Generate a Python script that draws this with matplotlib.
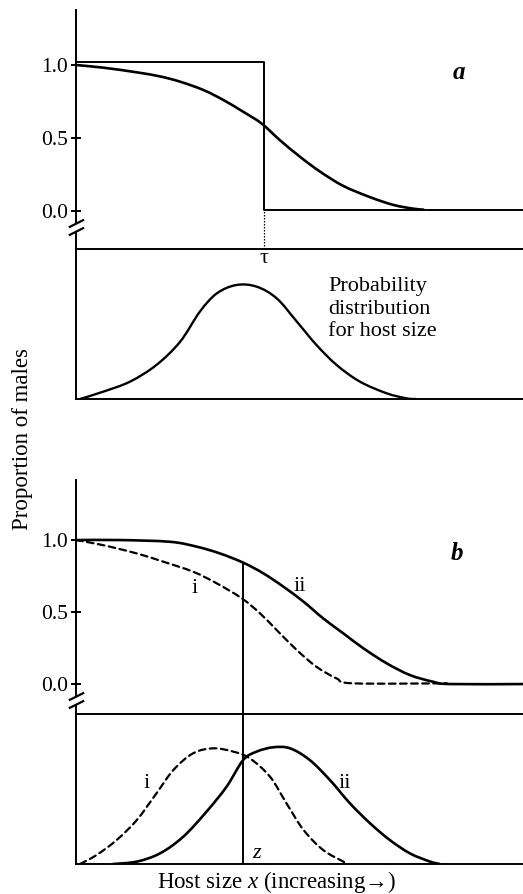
import matplotlib
matplotlib.use("Agg")
import matplotlib.pyplot as plt
from matplotlib.path import Path
from matplotlib.patches import PathPatch

plt.rcParams['font.family'] = ['Liberation Serif', 'DejaVu Serif']
plt.rcParams['mathtext.fontset'] = 'custom'
plt.rcParams['mathtext.rm'] = 'Liberation Serif'
plt.rcParams['mathtext.it'] = 'Liberation Serif:italic'

#####################################
# data (x = host size 0..100)

# panel a : threshold strategy (step) and smooth strategy
tau = 42
step_x = [0, tau, tau, 100]
step_y = [1.02, 1.02, 0.01, 0.01]

curve_a_x = [0, 6.1, 13.6, 18.8, 23.3, 28.5, 33, 37.4, 41.5, 45.6, 50.1, 54.6,
             59.8, 65.8, 71, 75.5, 77.7]
curve_a_y = [1.0, 0.982, 0.95, 0.922, 0.886, 0.829, 0.76, 0.68, 0.60, 0.486,
             0.372, 0.27, 0.172, 0.095, 0.042, 0.016, 0.01]

dist_a_x = [0.9, 6.1, 12.1, 18, 23.3, 27.7, 31.5, 35.9, 40.4, 44.9, 49.4, 53.8,
            58.3, 63.5, 69.5, 74, 76]
dist_a_y = [0, 0.049, 0.116, 0.227, 0.382, 0.582, 0.704, 0.76, 0.749, 0.671,
            0.516, 0.36, 0.227, 0.116, 0.038, 0.004, 0]

# panel b : two strategies i (dashed) and ii (solid)
ii_x = [0, 9.8, 21, 27, 32.2, 37.4, 41.9, 46.4, 50.9, 55.3, 59.8, 64.3, 69.5,
        74.7, 79.9, 83.7, 100]
ii_y = [1.0, 1.0, 0.988, 0.954, 0.907, 0.843, 0.769, 0.676, 0.572, 0.456,
        0.352, 0.248, 0.144, 0.0625, 0.016, 0.0, 0.0]

i_x = [0, 6, 13.6, 19.5, 26.2, 31.5, 37.1, 41.2, 44.9, 49.4, 53.8, 58.3, 62, 83]
i_y = [1.0, 0.965, 0.907, 0.85, 0.78, 0.699, 0.595, 0.49, 0.375, 0.236, 0.12,
       0.039, 0.005, 0.005]

dist_i_x = [0.9, 4.6, 9.1, 13.6, 18, 21.8, 26.2, 30.7, 35.2, 38.9, 43.4, 47.1,
            50.9, 55.3, 59.8, 60.6]
dist_i_y = [0, 0.06, 0.16, 0.293, 0.471, 0.627, 0.738, 0.771, 0.749, 0.704,
            0.582, 0.404, 0.227, 0.093, 0.016, 0]

dist_ii_x = [8.3, 13.6, 18.8, 24, 29.2, 33.7, 37.4, 40.4, 44.1, 47.9, 52.3,
             56.8, 61.3, 65.8, 70.2, 74.7, 79.2, 81.4]
dist_ii_y = [0, 0.016, 0.071, 0.182, 0.349, 0.516, 0.693, 0.749, 0.778, 0.771,
             0.693, 0.56, 0.404, 0.271, 0.16, 0.071, 0.016, 0]

z = 37.4
z_top = 0.843

yticks = [0, 0.5, 1.0]
ytick_labels = ["0.0", "0.5", "1.0"]

#####################################
# layout (pixels of the 523 x 894 picture)
W, H = 523, 894
LEFT = 76
fig = plt.figure(figsize=(W / 100, H / 100), dpi=100)


def box(top, bottom):
    return [LEFT / W, 1 - bottom / H, 1 - LEFT / W, (bottom - top) / H]


def smooth_line(ax, xs, ys, **kw):
    # bezier curve through the read points (catmull-rom tangents)
    pts = list(zip(xs, ys))
    n = len(pts)
    verts = [pts[0]]
    codes = [Path.MOVETO]
    for k in range(n - 1):
        p0 = pts[max(k - 1, 0)]
        p1 = pts[k]
        p2 = pts[k + 1]
        p3 = pts[min(k + 2, n - 1)]
        c1 = (p1[0] + (p2[0] - p0[0]) / 6, p1[1] + (p2[1] - p0[1]) / 6)
        c2 = (p2[0] - (p3[0] - p1[0]) / 6, p2[1] - (p3[1] - p1[1]) / 6)
        verts += [c1, c2, p2]
        codes += [Path.CURVE4] * 3
    ax.add_patch(PathPatch(Path(verts, codes), fill=False, color='k',
                           capstyle='round', **kw))


def style_upper(ax, ylim, unit_px):
    ax.set_xlim(0, 100)
    ax.set_ylim(*ylim)
    for s in ['top', 'right', 'bottom']:
        ax.spines[s].set_visible(False)
    ax.spines['left'].set_linewidth(1.4)
    ax.set_xticks([])
    ax.set_yticks(yticks)
    ax.set_yticklabels(ytick_labels)
    ax.tick_params(axis='y', direction='inout', length=7, width=1.4, pad=2,
                   labelsize=15.5)
    # broken axis
    ax.spines['left'].set_bounds(-11 / unit_px, ylim[1])
    ax.plot([0, 0], [ylim[0], -21 / unit_px], color='k', lw=1.4, clip_on=False)
    slash = [(-1, -0.5), (1, 0.5)]
    ax.plot([0, 0], [-12 / unit_px, -20 / unit_px], ls='none', marker=slash,
            ms=11, mew=1.6, color='k', clip_on=False)


def style_lower(ax):
    ax.set_xlim(0, 100)
    ax.set_ylim(0, 1)
    ax.spines['right'].set_visible(False)
    for s in ['left', 'top', 'bottom']:
        ax.spines[s].set_linewidth(1.4)
    ax.set_xticks([])
    ax.set_yticks([])


ax_a = fig.add_axes(box(10, 249))
ax_pa = fig.add_axes(box(249, 399))
ax_b = fig.add_axes(box(480, 714))
ax_pb = fig.add_axes(box(714, 864))
for ax in (ax_a, ax_pa, ax_b, ax_pb):
    ax.patch.set_alpha(0)

style_upper(ax_a, (-0.26, 1.377), 146)
style_upper(ax_b, (-0.208, 1.417), 144)
style_lower(ax_pa)
style_lower(ax_pb)

####################
# panel a
ax_a.plot(step_x, step_y, color='k', lw=1.4, clip_on=False)
smooth_line(ax_a, curve_a_x, curve_a_y, lw=1.9)
ax_a.plot([tau, tau], [-0.26, 0.01], color='k', lw=0.9, ls=(0, (1.2, 1.2)),
          clip_on=False)
ax_a.text(85.7, 0.95, "a", fontsize=18, style='italic', weight='bold',
          ha='center', va='center')

smooth_line(ax_pa, dist_a_x, dist_a_y, lw=1.7)
ax_pa.text(tau, 0.94, "τ", fontsize=16, ha='center', va='center')
ax_pa.text(56.4, 0.6, "Probability\ndistribution\nfor host size", fontsize=16,
           ha='left', va='center', linespacing=1.22)

####################
# panel b
smooth_line(ax_b, i_x, i_y, lw=1.6, linestyle=(0, (3, 2)))
smooth_line(ax_b, ii_x, ii_y, lw=1.9)
ax_b.plot([z, z], [-0.208, z_top], color='k', lw=1.4, clip_on=False)
ax_b.text(26.6, 0.664, "i", fontsize=16, ha='center', va='center')
ax_b.text(50.1, 0.676, "ii", fontsize=16, ha='center', va='center')
ax_b.text(85.2, 0.907, "b", fontsize=18, style='italic', weight='bold',
          ha='center', va='center')

smooth_line(ax_pb, dist_i_x, dist_i_y, lw=1.6, linestyle=(0, (3, 2)))
smooth_line(ax_pb, dist_ii_x, dist_ii_y, lw=1.9)
ax_pb.axvline(z, color='k', lw=1.4)
ax_pb.text(15.8, 0.54, "i", fontsize=16, ha='center', va='center')
ax_pb.text(60.2, 0.54, "ii", fontsize=16, ha='center', va='center')
ax_pb.text(z + 3, 0.07, "z", fontsize=16, style='italic', ha='center',
           va='center')

####################
# axis titles
fig.text(23 / W, 1 - 439 / H, "Proportion of males", rotation=90, fontsize=16.5,
         ha='center', va='center')
fig.text(277 / W, 1 - 882 / H, r"Host size $x$ (increasing→)", fontsize=16.5,
         ha='center', va='center')

fig.savefig("out.png", dpi=100)
